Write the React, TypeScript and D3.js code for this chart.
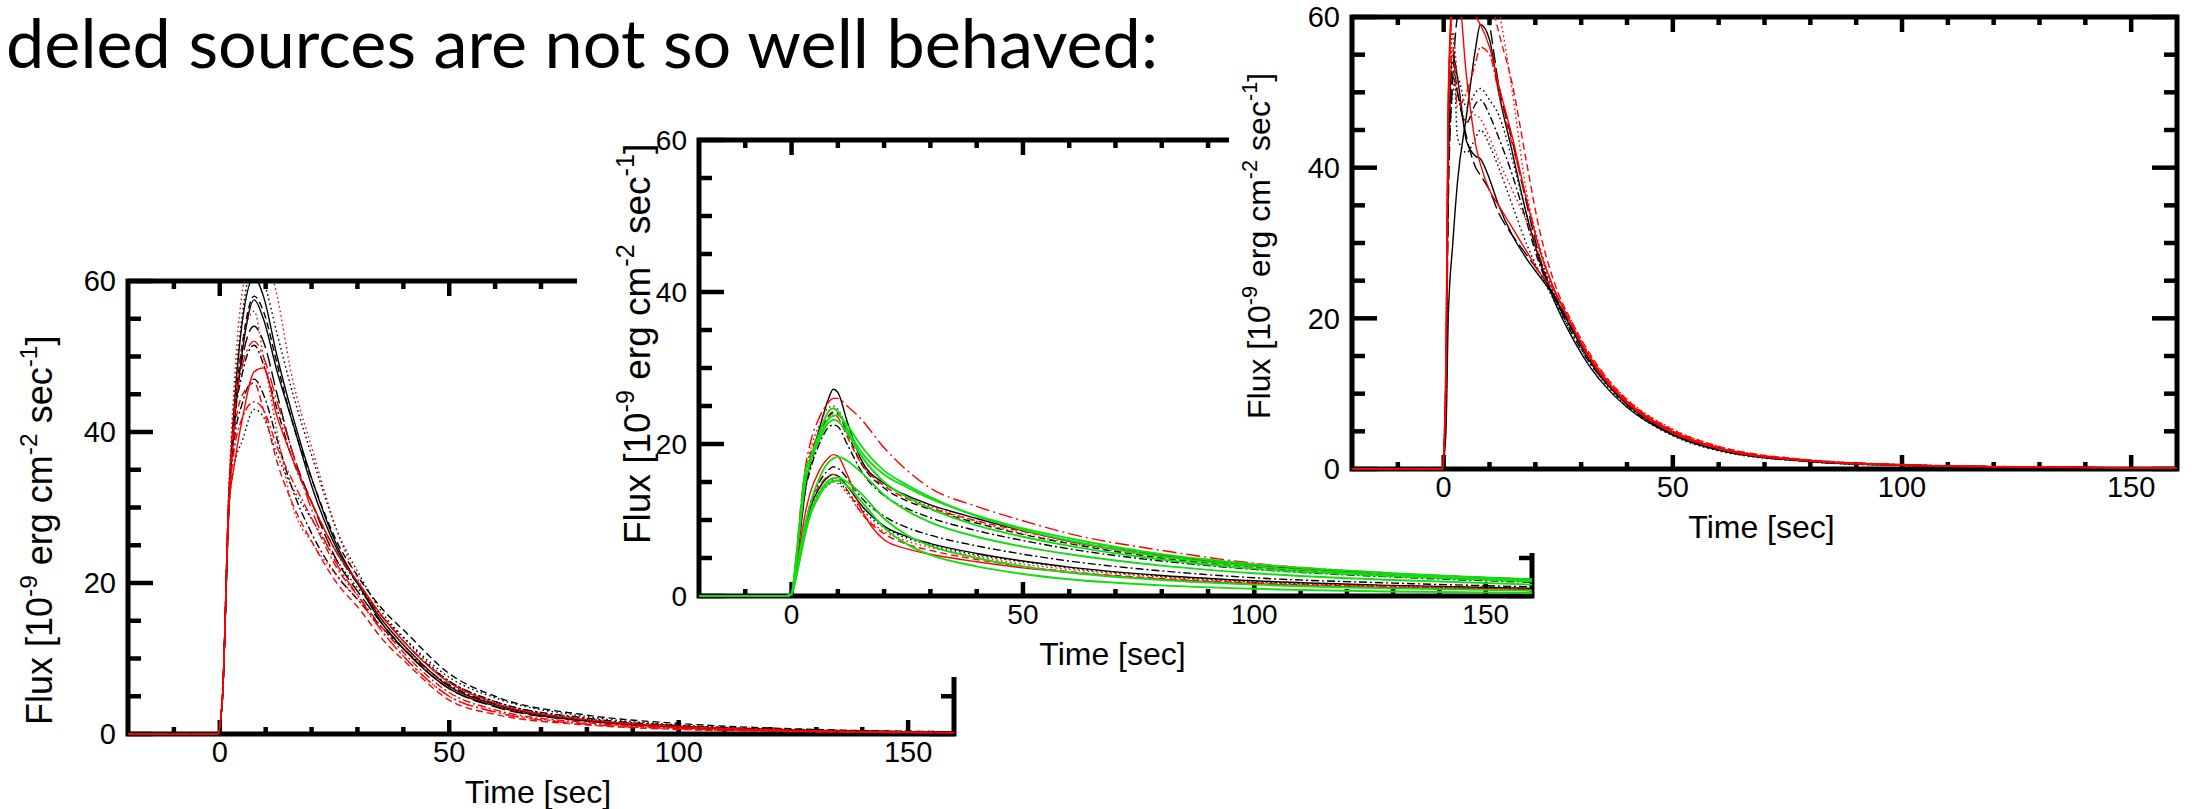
import React from "react";
import * as d3 from "d3";

const TITLE = "deled sources are not so well behaved:";
const X_MAJOR = [0, 50, 100, 150];
const X_MINOR = [-10, 10, 20, 30, 40, 60, 70, 80, 90, 110, 120, 130, 140];
const Y_MAJOR = [0, 20, 40, 60];
const Y_MINOR = [5, 10, 15, 25, 30, 35, 45, 50, 55];
const X_DOMAIN = [-20, 160];
const Y_DOMAIN = [0, 60];

// ---------- Panel 1 (left, bottom) ----------
const p1Time = [-20, -0.5, 0.5, 2, 3, 5, 7.5, 9.5, 12.5, 15.5, 20.5, 25.5, 30.5, 35.5, 40.5, 50, 60, 80, 100, 130, 160];
const p1BlackSolidA = [0, 0, 4, 30, 40, 51, 57.5, 55, 48, 42, 32, 24.5, 19.5, 15, 11.5, 6.3, 3.9, 1.8, 1.0, 0.45, 0.25];
const p1BlackSolidB = [0, 0, 4, 32, 42, 55, 60.5, 58, 50, 43, 33, 25, 19.5, 14.5, 11, 6, 3.7, 1.7, 0.9, 0.4, 0.2];
const p1BlackDashDot = [0, 0, 4, 31, 40, 48, 51.5, 49, 43, 37, 30, 24, 19.5, 15.5, 12, 7, 4.3, 2.1, 1.1, 0.5, 0.25];
const p1BlackDashed = [0, 0, 4, 31, 41, 52, 58, 56, 49, 42, 33, 25.5, 20.5, 16.5, 13.5, 8, 5, 2.5, 1.4, 0.6, 0.3];
const p1BlackDotLow = [0, 0, 4, 30, 35, 39, 43, 42, 37, 33, 28, 23, 19, 15.5, 12.5, 7.5, 4.8, 2.3, 1.2, 0.55, 0.3];
const p1BlackDotHigh = [0, 0, 4, 32, 43, 56, 62, 60, 53, 46, 36, 27, 21, 16, 12.5, 7, 4.3, 2, 1.1, 0.5, 0.25];
const p1BlackLongDash = [0, 0, 4, 31, 40, 50, 54, 52, 45, 38, 30, 23, 18.5, 14.5, 11, 6, 3.6, 1.7, 0.9, 0.4, 0.2];
const p1BlackDashDotLow = [0, 0, 4, 30, 38, 44, 47, 45, 39, 33, 26, 21, 17.5, 14, 11, 6.5, 4.0, 1.9, 1.0, 0.45, 0.22];
const p1RedSolid = [0, 0, 4, 30, 35, 42, 48, 48.5, 42, 37, 30, 24, 19.8, 15.5, 12, 6.8, 4.1, 1.9, 1.0, 0.45, 0.22];
const p1RedDashed = [0, 0, 4, 31, 39, 45, 46.5, 43, 36, 31, 25, 20, 16.5, 12.5, 9.5, 4.5, 2.6, 1.2, 0.6, 0.3, 0.15];
const p1RedDotOuter = [0, 0, 4, 33, 45, 59, 64, 64, 58, 48, 37, 27, 20, 15, 11.5, 6.2, 3.8, 1.8, 0.9, 0.4, 0.2];
const p1RedDotLow = [0, 0, 4, 32, 42, 52, 56, 50, 40, 31, 25, 21, 17.5, 13.5, 10, 5, 3, 1.4, 0.7, 0.3, 0.15];
const p1RedDashDot = [0, 0, 4, 31, 37, 42, 44, 43, 38, 34, 28, 22, 18, 14, 10.5, 5.5, 3.2, 1.5, 0.8, 0.35, 0.18];
const p1RedLongDashDot = [0, 0, 4, 32, 41, 49, 52, 50, 44, 38, 29, 22.5, 18, 13.5, 10, 5, 2.9, 1.3, 0.7, 0.3, 0.15];

// ---------- Panel 2 (middle) ----------
const p2Time = [-20, -1, 0, 1, 2, 3, 4, 6, 8, 9, 10, 12, 15, 20, 25, 30, 40, 50, 60, 80, 100, 130, 160];
const p2BlackSolidTop = [0, 0, 0.3, 4, 9, 14, 17.5, 22, 26, 27.2, 26.8, 23, 18, 14.8, 13.2, 12, 10.2, 8.6, 7.2, 5.3, 4.0, 2.9, 2.2];
const p2GreenA = [0, 0, 0.3, 5, 11, 16.5, 18, 21.5, 24.3, 24.7, 24.3, 22, 19, 16, 14.3, 12.8, 10.6, 8.9, 7.6, 5.5, 4.2, 3.0, 2.2];
const p2GreenB = [0, 0, 0.3, 5, 11, 16.5, 18, 21, 23.3, 23.7, 23.8, 22.5, 19.8, 16.5, 14.6, 13, 10.5, 8.7, 7.3, 5.2, 3.9, 2.8, 2.0];
const p2GreenC = [0, 0, 0.3, 4.5, 10, 15, 17.5, 20.5, 22.8, 23.2, 23, 21.5, 18.5, 15, 13, 11.5, 9.3, 7.8, 6.6, 4.8, 3.6, 2.6, 1.9];
const p2BlackDashed = [0, 0, 0.3, 4.5, 10, 15, 17, 21, 23.7, 24.2, 24, 21.5, 17.5, 14.2, 12.5, 11.4, 9.6, 8.1, 6.9, 5.0, 3.8, 2.7, 2.0];
const p2BlackDashDotTop = [0, 0, 0.3, 4, 9.5, 14, 16.5, 20, 22.2, 22.5, 22.3, 20, 16.5, 13.2, 11.5, 10.3, 8.6, 7.3, 6.2, 4.6, 3.5, 2.5, 1.8];
const p2RedLongDashDot = [0, 0, 0.3, 5, 12, 17, 20, 23.5, 25.5, 26, 26, 25, 23.3, 19.5, 16.5, 14.2, 11.8, 9.9, 8.2, 6.0, 4.3, 3.0, 2.2];
const p2RedDotTop = [0, 0, 0.3, 5, 11, 16, 19, 22.5, 24.8, 25, 24.6, 22, 18.5, 15, 13, 11.8, 9.8, 8.2, 7.0, 5.1, 3.8, 2.7, 2.0];
const p2RedDashedTop = [0, 0, 0.3, 5, 11.5, 16, 18.5, 21.5, 23.6, 24, 23.5, 21, 17.5, 14.5, 12.8, 11.6, 9.9, 8.5, 7.3, 5.4, 4.0, 2.9, 2.1];
const p2GreenD = [0, 0, 0.3, 3, 6.5, 9.5, 12, 15.5, 17.6, 18.1, 18.3, 17.8, 16.3, 13.3, 11.2, 9.7, 7.8, 6.5, 5.5, 4.0, 3.0, 2.1, 1.5];
const p2RedSolid = [0, 0, 0.3, 3.5, 7.5, 11, 13.5, 16.5, 18.2, 18.6, 18.4, 16, 11.5, 7.4, 6.2, 5.5, 4.5, 3.7, 3.1, 2.2, 1.6, 1.1, 0.8];
const p2BlackDashDot = [0, 0, 0.3, 3, 6.5, 9.5, 12, 15, 16.6, 17, 16.8, 15.5, 13, 10.5, 9, 8, 6.6, 5.5, 4.6, 3.3, 2.4, 1.7, 1.2];
const p2BlackSolidLow = [0, 0, 0.3, 3, 6, 9, 11.5, 14.2, 15.7, 16, 15.8, 14.5, 12, 9.2, 7.8, 6.9, 5.6, 4.6, 3.8, 2.7, 2.0, 1.4, 1.0];
const p2BlackDot = [0, 0, 0.3, 3, 6, 9, 11, 13.7, 15, 15.3, 15.1, 13.8, 11.5, 9, 7.6, 6.7, 5.4, 4.5, 3.7, 2.6, 1.9, 1.3, 0.9];
const p2RedDashedLow = [0, 0, 0.3, 3, 6.5, 9.5, 12, 14.5, 15.8, 16, 15.7, 14, 11, 8.2, 6.8, 6.0, 4.8, 3.9, 3.2, 2.3, 1.7, 1.2, 0.85];
const p2GreenE = [0, 0, 0.3, 2.5, 5.5, 8.5, 10.8, 13.6, 15.2, 15.5, 15.6, 15, 13.5, 10.2, 8, 6.6, 5.0, 3.9, 3.1, 2.1, 1.5, 1.0, 0.7];
const p2GreenF = [0, 0, 0.3, 2.5, 5.5, 8.3, 10.5, 13.2, 14.8, 15.1, 15.2, 14.5, 12.5, 9, 6.8, 5.4, 3.9, 2.9, 2.2, 1.4, 0.95, 0.6, 0.4];
const p2RedDotLow = [0, 0, 0.3, 3, 6.5, 9.5, 11.5, 13.5, 14.6, 15, 14.8, 13.5, 11, 8.5, 7.2, 6.4, 5.2, 4.2, 3.5, 2.5, 1.8, 1.3, 0.9];

// ---------- Panel 3 (right, top) ----------
const p3Time = [-20, -0.3, 0.5, 1, 2, 3, 5, 7, 8, 10, 12, 15, 18, 21, 24, 28, 32, 36, 40, 50, 60, 80, 100, 130, 160];
const p3BlackSolidSlow = [0, 0, 5, 20, 30, 38, 47, 56, 59, 57, 50, 42, 34, 27.5, 22.5, 17.5, 13.5, 10.5, 8.2, 4.5, 2.5, 1.0, 0.5, 0.25, 0.12];
const p3BlackLongDash = [0, 0, 8, 35, 52, 60, 63, 64, 63.5, 59, 51, 43.5, 35.5, 28, 23, 18.5, 14.5, 11.2, 8.8, 4.9, 2.7, 1.1, 0.55, 0.25, 0.12];
const p3BlackDot = [0, 0, 10, 38, 50, 52, 48, 50, 50.5, 49, 47, 41, 34, 28, 23.5, 18.5, 14.5, 11.2, 8.8, 4.9, 2.8, 1.1, 0.55, 0.25, 0.12];
const p3BlackDashDot = [0, 0, 10, 40, 54, 50, 46, 48.5, 49, 47, 44, 39, 33, 27, 23, 18, 14, 11, 8.5, 4.7, 2.6, 1.0, 0.5, 0.24, 0.12];
const p3BlackSolidDip = [0, 0, 10, 42, 55, 52, 43.5, 41.5, 41.2, 38.5, 35, 31, 28, 25.5, 23, 18.5, 14.2, 11, 8.6, 4.6, 2.5, 1.0, 0.5, 0.22, 0.1];
const p3BlackDotLow = [0, 0, 10, 45, 58, 44, 42, 44, 45, 43, 40, 35, 30, 26, 22.5, 18, 14, 10.8, 8.3, 4.4, 2.4, 0.95, 0.45, 0.2, 0.1];
const p3BlackLongDashLow = [0, 0, 9, 40, 52, 50, 44, 40, 39, 37, 34, 31, 28.5, 26, 23.2, 18.8, 14.5, 11.3, 8.9, 5, 2.8, 1.15, 0.55, 0.25, 0.12];
const p3RedSolidFast = [0, 0, 12, 48, 62, 64, 52, 43, 40.5, 37, 35, 32, 29, 26, 23.8, 19, 14.8, 11.5, 9, 5, 2.8, 1.1, 0.55, 0.25, 0.12];
const p3RedDashDotSpike = [0, 0, 15, 45, 56, 48, 50, 54, 56, 55, 50, 43, 36, 29, 24, 19, 14.5, 11.3, 8.8, 4.9, 2.7, 1.1, 0.5, 0.25, 0.12];
const p3RedDotOuter = [0, 0, 10, 45, 62, 66, 68, 68, 68, 66, 61, 50, 37, 29.5, 24, 19.5, 15, 11.8, 9.3, 5.3, 3.0, 1.2, 0.6, 0.27, 0.13];
const p3RedDotInner = [0, 0, 12, 46, 58, 52, 46, 47, 46.5, 44, 41, 37, 33, 28, 24, 19, 14.5, 11.3, 8.8, 4.8, 2.7, 1.1, 0.5, 0.24, 0.12];
const p3RedDashed = [0, 0, 12, 48, 62, 65, 66, 66, 65, 63, 58, 51, 41, 31.5, 25, 19.5, 15.2, 11.8, 9.2, 5.2, 3.0, 1.2, 0.6, 0.27, 0.13];
const p3RedSolidB = [0, 0, 15, 50, 63, 64, 62, 60, 59, 56, 51, 44, 36, 29, 24, 19, 14.6, 11.3, 8.8, 4.8, 2.7, 1.05, 0.5, 0.23, 0.11];

const BLACK = "#000000";
const RED = "#ff0000";
const GREEN = "#12dd12";
const DASH: Record<string, string | undefined> = {
  solid: undefined,
  dash: "7,4",
  dot: "1.6,3",
  dashdot: "8,3,2,3",
  longdash: "14,5",
  longdashdot: "14,4,2,4",
};

type Series = { values: number[]; color: string; dash: string };

const panel1Series: Series[] = [
  { values: p1BlackDotLow, color: BLACK, dash: "dot" },
  { values: p1BlackDashDotLow, color: BLACK, dash: "dashdot" },
  { values: p1BlackLongDash, color: BLACK, dash: "longdash" },
  { values: p1BlackDashDot, color: BLACK, dash: "dashdot" },
  { values: p1BlackDashed, color: BLACK, dash: "dash" },
  { values: p1BlackDotHigh, color: BLACK, dash: "dot" },
  { values: p1BlackSolidB, color: BLACK, dash: "solid" },
  { values: p1BlackSolidA, color: BLACK, dash: "solid" },
  { values: p1RedDashed, color: RED, dash: "dash" },
  { values: p1RedDotLow, color: RED, dash: "dot" },
  { values: p1RedDashDot, color: RED, dash: "dashdot" },
  { values: p1RedLongDashDot, color: RED, dash: "longdashdot" },
  { values: p1RedDotOuter, color: RED, dash: "dot" },
  { values: p1RedSolid, color: RED, dash: "solid" },
];

const panel2Series: Series[] = [
  { values: p2BlackDot, color: BLACK, dash: "dot" },
  { values: p2BlackSolidLow, color: BLACK, dash: "solid" },
  { values: p2BlackDashDot, color: BLACK, dash: "dashdot" },
  { values: p2BlackDashDotTop, color: BLACK, dash: "dashdot" },
  { values: p2BlackDashed, color: BLACK, dash: "dash" },
  { values: p2BlackSolidTop, color: BLACK, dash: "solid" },
  { values: p2RedDotLow, color: RED, dash: "dot" },
  { values: p2RedDashedLow, color: RED, dash: "dash" },
  { values: p2RedDotTop, color: RED, dash: "dot" },
  { values: p2RedDashedTop, color: RED, dash: "dash" },
  { values: p2RedLongDashDot, color: RED, dash: "longdashdot" },
  { values: p2RedSolid, color: RED, dash: "solid" },
  { values: p2GreenA, color: GREEN, dash: "solid" },
  { values: p2GreenB, color: GREEN, dash: "solid" },
  { values: p2GreenC, color: GREEN, dash: "solid" },
  { values: p2GreenD, color: GREEN, dash: "solid" },
  { values: p2GreenE, color: GREEN, dash: "solid" },
  { values: p2GreenF, color: GREEN, dash: "solid" },
];

const panel3Series: Series[] = [
  { values: p3BlackDot, color: BLACK, dash: "dot" },
  { values: p3BlackDotLow, color: BLACK, dash: "dot" },
  { values: p3BlackDashDot, color: BLACK, dash: "dashdot" },
  { values: p3BlackLongDash, color: BLACK, dash: "longdash" },
  { values: p3BlackLongDashLow, color: BLACK, dash: "longdash" },
  { values: p3BlackSolidDip, color: BLACK, dash: "solid" },
  { values: p3BlackSolidSlow, color: BLACK, dash: "solid" },
  { values: p3RedDotInner, color: RED, dash: "dot" },
  { values: p3RedDotOuter, color: RED, dash: "dot" },
  { values: p3RedDashed, color: RED, dash: "dash" },
  { values: p3RedDashDotSpike, color: RED, dash: "dashdot" },
  { values: p3RedSolidB, color: RED, dash: "solid" },
  { values: p3RedSolidFast, color: RED, dash: "solid" },
];

const FONT = "'Liberation Sans', Arial, Helvetica, sans-serif";

type PanelDef = {
  id: string;
  left: number;
  right: number;
  top: number;
  bottom: number;
  time: number[];
  series: Series[];
  ylabX: number;
  ylabY: number;
  ylabSize: number;
  tickSize: number;
};

const panels: PanelDef[] = [
  { id: "p1", left: 128, right: 954, top: 281, bottom: 734, time: p1Time, series: panel1Series, ylabX: 52, ylabY: 725, ylabSize: 36, tickSize: 29 },
  { id: "p2", left: 699, right: 1532, top: 140, bottom: 596, time: p2Time, series: panel2Series, ylabX: 650, ylabY: 544, ylabSize: 37, tickSize: 28 },
  { id: "p3", left: 1352, right: 2177, top: 17, bottom: 469, time: p3Time, series: panel3Series, ylabX: 1270, ylabY: 419, ylabSize: 32, tickSize: 29 },
];

function YLabel({ x, y, size }: { x: number; y: number; size: number }) {
  const sup = size * 0.68;
  const up = -size * 0.42;
  return (
    <text transform={`translate(${x},${y}) rotate(-90)`} fontSize={size} fontFamily={FONT} fill="#000">
      <tspan>{"Flux [10"}</tspan>
      <tspan dy={up} fontSize={sup}>{"-9"}</tspan>
      <tspan dy={-up}>{" erg cm"}</tspan>
      <tspan dy={up} fontSize={sup}>{"-2"}</tspan>
      <tspan dy={-up}>{" sec"}</tspan>
      <tspan dy={up} fontSize={sup}>{"-1"}</tspan>
      <tspan dy={-up}>{"]"}</tspan>
    </text>
  );
}

function Panel({ p }: { p: PanelDef }) {
  const x = d3.scaleLinear().domain(X_DOMAIN).range([p.left, p.right]);
  const y = d3.scaleLinear().domain(Y_DOMAIN).range([p.bottom, p.top]);
  const line = d3
    .line<number>()
    .x((_, i) => x(p.time[i]))
    .y((v) => y(v))
    .curve(d3.curveMonotoneX);
  const tickW = 4.5;
  return (
    <g>
      <defs>
        <clipPath id={`clip-${p.id}`}>
          <rect x={p.left} y={p.top} width={p.right - p.left} height={p.bottom - p.top + 1} />
        </clipPath>
      </defs>
      {/* ticks */}
      <g stroke="#000" strokeWidth={tickW}>
        {X_MAJOR.map((t) => (
          <g key={`xm${t}`}>
            <line x1={x(t)} x2={x(t)} y1={p.bottom} y2={p.bottom - 14} />
            <line x1={x(t)} x2={x(t)} y1={p.top} y2={p.top + 15} />
          </g>
        ))}
        {X_MINOR.map((t) => (
          <g key={`xn${t}`}>
            <line x1={x(t)} x2={x(t)} y1={p.bottom} y2={p.bottom - 7} />
            <line x1={x(t)} x2={x(t)} y1={p.top} y2={p.top + 8} />
          </g>
        ))}
        {Y_MAJOR.map((v) => (
          <g key={`ym${v}`}>
            <line x1={p.left} x2={p.left + 25} y1={y(v)} y2={y(v)} />
            <line x1={p.right} x2={p.right - 25} y1={y(v)} y2={y(v)} />
          </g>
        ))}
        {Y_MINOR.map((v) => (
          <g key={`yn${v}`}>
            <line x1={p.left} x2={p.left + 13} y1={y(v)} y2={y(v)} />
            <line x1={p.right} x2={p.right - 13} y1={y(v)} y2={y(v)} />
          </g>
        ))}
      </g>
      <rect
        x={p.left}
        y={p.top}
        width={p.right - p.left}
        height={p.bottom - p.top}
        fill="none"
        stroke="#000"
        strokeWidth={5}
      />
      <g clipPath={`url(#clip-${p.id})`}>
        {p.series.map((s, i) => (
          <path
            key={i}
            d={line(s.values) || ""}
            fill="none"
            stroke={s.color}
            strokeWidth={s.color === GREEN ? 1.9 : 1.4}
            strokeDasharray={DASH[s.dash]}
          />
        ))}
      </g>
      {/* tick labels */}
      <g fontFamily={FONT} fontSize={p.tickSize} fill="#000">
        {X_MAJOR.map((t) => (
          <text key={`xl${t}`} x={x(t)} y={p.bottom + 28} textAnchor="middle">
            {t}
          </text>
        ))}
        {Y_MAJOR.map((v) => (
          <text key={`yl${v}`} x={p.left - 12} y={y(v)} dy="0.36em" textAnchor="end">
            {v}
          </text>
        ))}
      </g>
      <text
        x={(p.left + p.right) / 2 - 3}
        y={p.bottom + 69}
        textAnchor="middle"
        fontFamily={FONT}
        fontSize={32}
        fill="#000"
      >
        Time [sec]
      </text>
      <YLabel x={p.ylabX} y={p.ylabY} size={p.ylabSize} />
    </g>
  );
}

export default function App() {
  return (
    <svg
      width={2192}
      height={809}
      style={{ position: "absolute", left: 0, top: 0, background: "#fff" }}
    >
      <rect x={0} y={0} width={2192} height={809} fill="#fff" />
      <text
        x={6}
        y={68}
        fontFamily="'Lato', 'Open Sans', sans-serif"
        fontSize={68}
        textLength={1152}
        lengthAdjust="spacingAndGlyphs"
        fill="#000"
      >
        {TITLE}
      </text>
      <Panel p={panels[0]} />
      <rect x={577} y={88} width={990} height={589} fill="#fff" />
      <Panel p={panels[1]} />
      <rect x={1229} y={0} width={963} height={553} fill="#fff" />
      <Panel p={panels[2]} />
    </svg>
  );
}
